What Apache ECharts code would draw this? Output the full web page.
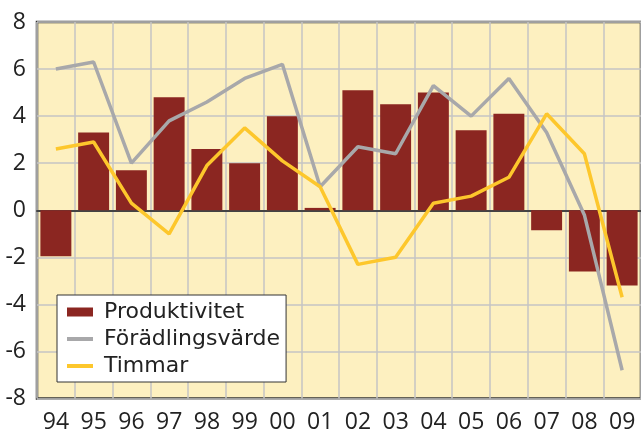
<!DOCTYPE html>
<html>
<head>
<meta charset="utf-8">
<script src="https://cdn.jsdelivr.net/npm/echarts@6/dist/echarts.min.js"></script>
<style>
  html, body { margin: 0; padding: 0; background: #fff; }
  #chart { width: 641px; height: 434px; }
</style>
</head>
<body>
<div id="chart"></div>
<script>
// years on the x axis
var years = ['94','95','96','97','98','99','00','01','02','03','04','05','06','07','08','09'];
// Produktivitet (bars)
var produktivitet = [-1.95, 3.3, 1.7, 4.8, 2.6, 2.0, 4.0, 0.1, 5.1, 4.5, 5.0, 3.4, 4.1, -0.85, -2.6, -3.2];
// Förädlingsvärde (grey line)
var foradlingsvarde = [6.0, 6.3, 2.0, 3.8, 4.6, 5.6, 6.2, 1.0, 2.7, 2.4, 5.3, 4.0, 5.6, 3.3, -0.2, -6.8];
// Timmar (yellow line)
var timmar = [2.6, 2.9, 0.3, -1.0, 1.9, 3.5, 2.1, 1.0, -2.3, -2.0, 0.3, 0.6, 1.4, 4.1, 2.4, -3.7];

var chart = echarts.init(document.getElementById('chart'));
var axisFont = 'Open Sans';
var legendFont = 'DejaVu Sans';

chart.setOption({
  animation: false,
  backgroundColor: '#fff',
  grid: {
    left: 37, right: 0, top: 22, bottom: 34,
    show: true,
    backgroundColor: '#fdf0c0',
    borderColor: '#333',
    borderWidth: 2.5
  },
  legend: {
    orient: 'vertical',
    left: 57,
    top: 295,
    padding: [4, 6, 3, 10],
    itemGap: 1,
    itemWidth: 26,
    itemHeight: 9,
    backgroundColor: '#fff',
    borderColor: '#333',
    borderWidth: 1,
    borderRadius: 0,
    textStyle: { fontFamily: legendFont, fontSize: 22, color: '#222', lineHeight: 26, padding: [0, 0, 0, 6] },
    data: [
      { name: 'Produktivitet', icon: 'rect' },
      { name: 'Förädlingsvärde', icon: 'path://M0,0H26V4H0Z' },
      { name: 'Timmar', icon: 'path://M0,0H26V4H0Z' }
    ]
  },
  xAxis: {
    type: 'category',
    data: years,
    axisLine: { onZero: true, lineStyle: { color: '#444', width: 2 } },
    axisTick: { show: false },
    axisLabel: { fontFamily: axisFont, fontSize: 23, color: '#222', margin: 24, verticalAlign: 'middle' },
    splitLine: { show: true, lineStyle: { color: '#c4c4c4', width: 1.5 } }
  },
  yAxis: {
    type: 'value',
    min: -8, max: 8, interval: 2,
    axisLine: { show: false },
    axisTick: { show: false },
    axisLabel: { fontFamily: axisFont, fontSize: 23, color: '#222', margin: 11 },
    splitLine: { show: true, lineStyle: { color: '#c4c4c4', width: 1.5 } }
  },
  series: [
    {
      name: 'Produktivitet',
      type: 'bar',
      data: produktivitet,
      barCategoryGap: '18%',
      itemStyle: { color: '#8b2621' },
      z: 2
    },
    {
      name: 'Förädlingsvärde',
      type: 'line',
      data: foradlingsvarde,
      symbol: 'none',
      lineStyle: { color: '#a8a8aa', width: 3.5 },
      itemStyle: { color: '#a8a8aa' },
      z: 3
    },
    {
      name: 'Timmar',
      type: 'line',
      data: timmar,
      symbol: 'none',
      lineStyle: { color: '#fdc72c', width: 3.5 },
      itemStyle: { color: '#fdc72c' },
      z: 4
    }
  ]
});
</script>
</body>
</html>
